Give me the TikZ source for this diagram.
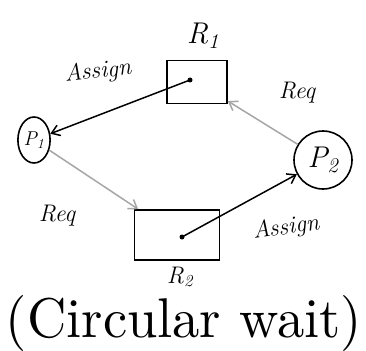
\documentclass[tikz,border=0pt]{standalone}
\usepackage{fontspec}
\usepackage{graphicx}
\usetikzlibrary{arrows.meta,shapes.geometric}
\begin{document}
\begin{tikzpicture}[x=1pt,y=-1pt,
  res/.style={draw,line width=1.6pt,minimum width=60pt,minimum height=43pt,inner sep=0pt},
  lbl/.style={font=\itshape\fontsize{24}{24}\selectfont,inner sep=1pt},
  nm/.style={font=\itshape\fontsize{#1}{#1}\selectfont,inner sep=1pt},
  asg/.style={line width=1.5pt,-{Straight Barb[length=8pt,width=11pt]}},
  req/.style={line width=1.5pt,draw=gray!70,-{Straight Barb[length=8pt,width=11pt]}}]
\useasboundingbox (0,0) rectangle (366,350);
\node[res] (r1) at (197,82) {};
\node[res,minimum width=85pt,minimum height=50pt] (r2) at (177,235) {};
\node[draw,line width=1.6pt,ellipse,minimum width=28pt,minimum height=46pt,inner sep=0pt,nm=20] (p1) at (34,140) {P\textsubscript{1}};
\node[draw,line width=1.6pt,circle,minimum size=58pt,inner sep=0pt,nm=30] (p2) at (323,160) {P\textsubscript{2}};
\node[nm=30] (r1l) at (203,36) {R\textsubscript{1}};
\node[nm=24] (r2l) at (180,277) {R\textsubscript{2}};
\fill (190,80) circle (2.5pt) coordinate (d1);
\fill (182,237) circle (2.5pt) coordinate (d2);
\draw[asg] (d1) -- (p1);
\draw[asg] (d2) -- (p2);
\draw[req] (p2) -- (r1);
\draw[req] (p1) -- (r2);
\node[lbl,rotate=6] (a1) at (98,72) {Assign};
\node[lbl] (q1) at (297,93) {Req};
\node[lbl] (q2) at (57,216) {Req};
\node[lbl,rotate=8] (a2) at (286,228) {Assign};
\node[inner sep=0pt] (cw) at (184,323) {\resizebox{356pt}{42pt}{(Circular wait)}};
\end{tikzpicture}
\end{document}
